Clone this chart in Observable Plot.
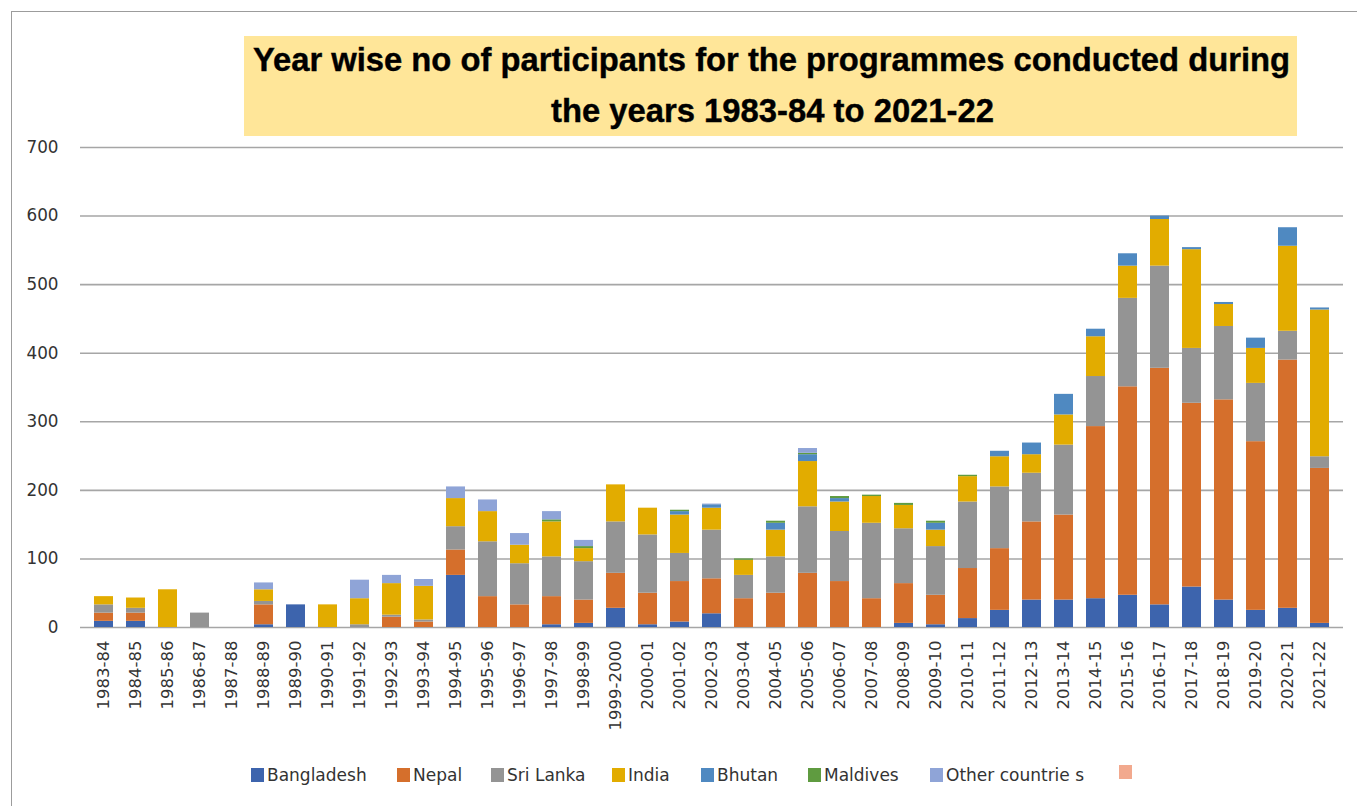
<!DOCTYPE html>
<html>
<head>
<meta charset="utf-8">
<script src="https://cdn.jsdelivr.net/npm/d3@7"></script>
<script src="https://cdn.jsdelivr.net/npm/@observablehq/plot@0.6"></script>
<style>
  html, body { margin: 0; padding: 0; background: #ffffff; }
  #wrap { position: relative; width: 1357px; height: 806px; overflow: hidden; background: #ffffff; }
  #frame { position: absolute; left: 11px; top: 11px; right: -5px; bottom: -5px; border-top: 1.5px solid #9c9c9c; border-left: 1.5px solid #9c9c9c; pointer-events: none; }
  #chart { position: absolute; left: 0; top: 0; }
  #title { position: absolute; left: 244px; top: 36px; }
  #legend { position: absolute; left: 0; top: 765px; width: 1357px; height: 18px; font-family: "DejaVu Sans", Verdana, sans-serif; font-size: 17px; color: #333; }
  .item { position: absolute; top: 0; display: flex; align-items: center; gap: 3px; white-space: nowrap; }
  .sw { width: 13px; height: 14px; display: inline-block; }
</style>
</head>
<body>
<div id="wrap">
  <div id="chart"></div>
  <div id="frame"></div>
  <svg id="title" width="1053" height="100" xmlns="http://www.w3.org/2000/svg">
    <rect x="0" y="0" width="1053" height="100" fill="#ffe699"></rect>
    <text id="t1" x="9" y="35" font-family="'Liberation Sans', Arial, sans-serif" font-weight="bold" font-size="32.5" fill="#000" stroke="#000" stroke-width="0.4" textLength="1037" lengthAdjust="spacingAndGlyphs"></text>
    <text id="t2" x="307" y="86" font-family="'Liberation Sans', Arial, sans-serif" font-weight="bold" font-size="32.5" fill="#000" stroke="#000" stroke-width="0.4" textLength="443" lengthAdjust="spacingAndGlyphs"></text>
  </svg>
  <div id="legend"></div>
</div>
<script>
const titleLines = ["Year wise no of participants for the programmes conducted during", "the years 1983-84 to 2021-22"];

const years = ["1983-84","1984-85","1985-86","1986-87","1987-88","1988-89","1989-90","1990-91","1991-92","1992-93","1993-94","1994-95","1995-96","1996-97","1997-98","1998-99","1999-2000","2000-01","2001-02","2002-03","2003-04","2004-05","2005-06","2006-07","2007-08","2008-09","2009-10","2010-11","2011-12","2012-13","2013-14","2014-15","2015-16","2016-17","2017-18","2018-19","2019-20","2020-21","2021-22"];

const countries = ["Bangladesh", "Nepal", "Sri Lanka", "India", "Bhutan", "Maldives", "Other countrie s"];
const legendLabels = ["Bangladesh", "Nepal", "Sri Lanka", "India", "Bhutan", "Maldives", "Other countrie s", ""];
const colors = ["#3d64ad", "#d56f2c", "#949494", "#e2ac00", "#4f89c1", "#5f9b40", "#8fa4d7", "#f2a98e"];

const bangladesh = [9,9,0,0,0,4,33,0,0,0,0,76,0,0,4,6,28,4,8,20,0,0,0,0,0,6,4,13,25,40,40,42,47,33,59,40,25,28,6];
const nepal      = [12,12,0,0,0,29,0,0,0,15,8,37,45,33,41,34,51,46,59,51,42,50,79,67,42,58,43,73,90,114,124,251,304,345,268,292,246,362,226];
const sriLanka   = [12,7,0,21,0,5,0,0,4,3,3,34,80,60,58,56,75,85,41,71,34,53,97,73,110,80,71,97,90,71,102,73,129,149,80,107,85,42,17];
const india      = [12,15,55,0,0,17,0,33,38,46,49,41,44,27,51,19,54,39,56,32,22,39,66,43,39,34,24,37,44,27,44,58,47,68,144,32,51,124,214];
const bhutan     = [0,0,0,0,0,0,0,0,0,0,0,0,0,0,0,0,0,0,5,5,0,10,10,5,0,0,10,0,8,17,30,11,18,5,3,3,15,27,3];
const maldives   = [0,0,0,0,0,0,0,0,0,0,0,0,0,0,3,3,0,0,2,0,2,3,2,3,2,3,3,2,0,0,0,0,0,0,0,0,0,0,0];
const others     = [0,0,0,0,0,10,0,0,27,12,10,17,17,17,12,9,0,0,0,1,0,0,7,0,0,0,0,0,0,0,0,0,0,0,0,0,0,0,0];

const yTicks = [0, 100, 200, 300, 400, 500, 600, 700];

const seriesValues = [bangladesh, nepal, sriLanka, india, bhutan, maldives, others];
const rows = [];
years.forEach((yr, i) => {
  countries.forEach((c, k) => {
    rows.push({year: yr, country: c, value: seriesValues[k][i]});
  });
});

document.getElementById("t1").textContent = titleLines[0];
document.getElementById("t2").textContent = titleLines[1];

const chart = Plot.plot({
  width: 1357,
  height: 747,
  marginTop: 147,
  marginBottom: 120,
  marginLeft: 80,
  marginRight: 14,
  style: {fontFamily: "'DejaVu Sans', Verdana, sans-serif", background: "transparent", overflow: "visible", color: "#333"},
  x: {type: "band", domain: years, paddingInner: 0.41, paddingOuter: 0.205, label: null},
  y: {domain: [0, 700], label: null},
  color: {domain: countries, range: colors.slice(0, 7)},
  marks: [
    Plot.gridY({ticks: yTicks, stroke: "#a6a6a6", strokeOpacity: 1, strokeWidth: 1.6}),
    Plot.barY(rows, Plot.stackY({x: "year", y: "value", fill: "country", order: countries})),
    Plot.axisY({ticks: yTicks, tickSize: 0, tickPadding: 22, fontSize: 16.8, label: null}),
    Plot.axisX({tickSize: 0, tickPadding: 13, tickRotate: -90, fontSize: 16.5, label: null})
  ]
});
document.getElementById("chart").appendChild(chart);

// legend item left positions (layout only)
const legendLeft = [251, 397, 491, 612, 701, 808, 930, 1119];
const legend = document.getElementById("legend");
legendLabels.forEach((lab, i) => {
  const item = document.createElement("span");
  item.className = "item";
  item.style.left = legendLeft[i] + "px";
  const sw = document.createElement("span");
  sw.className = "sw";
  sw.style.background = colors[i];
  item.appendChild(sw);
  if (lab) {
    const t = document.createElement("span");
    t.textContent = lab;
    item.appendChild(t);
  }
  legend.appendChild(item);
});
</script>
</body>
</html>
